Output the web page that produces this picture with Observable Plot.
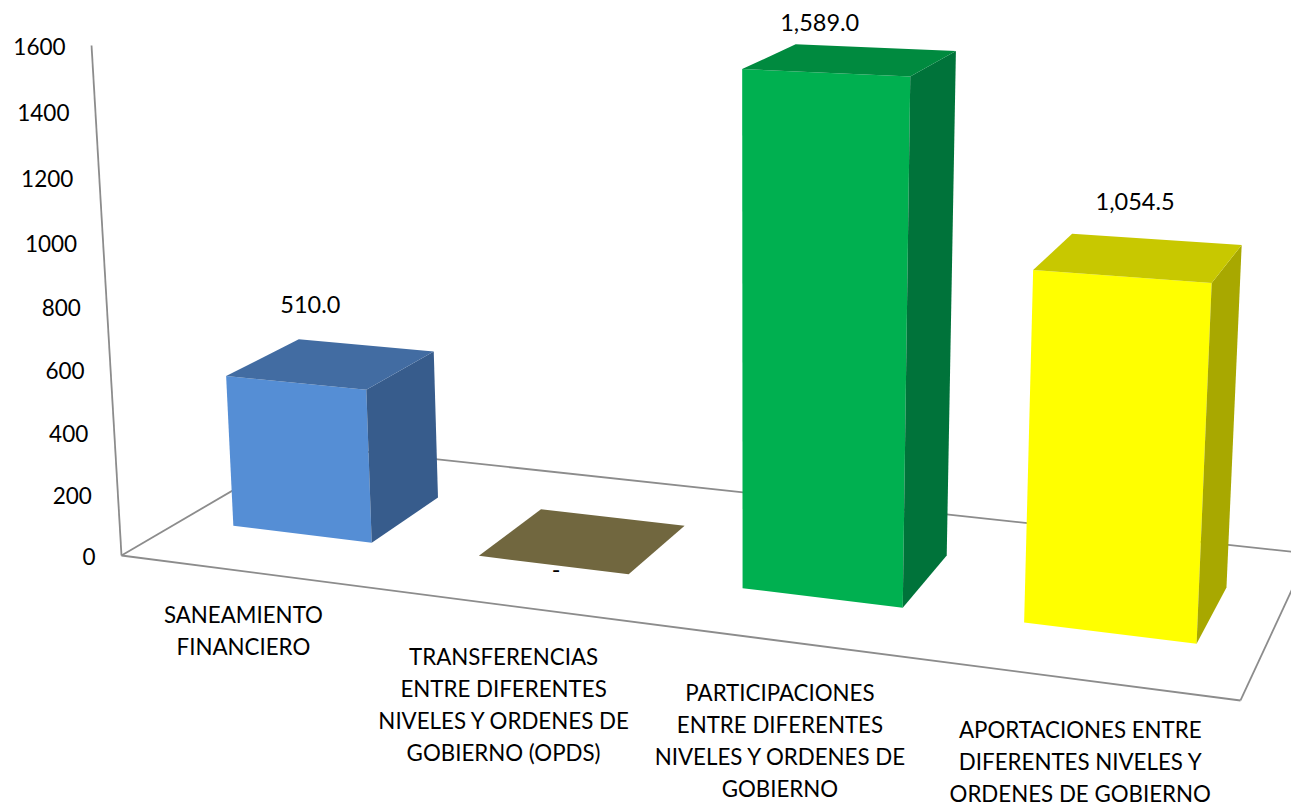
<!DOCTYPE html>
<html><head><meta charset="utf-8">
<script src="https://cdn.jsdelivr.net/npm/d3@7"></script>
<script src="https://cdn.jsdelivr.net/npm/@observablehq/plot@0.6"></script>
<style>html,body{margin:0;padding:0;background:#fff;overflow:hidden}svg{display:block}</style>
</head><body><div id="chart"></div>
<script>
const categories = ["SANEAMIENTO\nFINANCIERO","TRANSFERENCIAS\nENTRE DIFERENTES\nNIVELES Y ORDENES DE\nGOBIERNO (OPDS)","PARTICIPACIONES\nENTRE DIFERENTES\nNIVELES Y ORDENES DE\nGOBIERNO","APORTACIONES ENTRE\nDIFERENTES NIVELES Y\nORDENES DE GOBIERNO"];
const values = [510, 0, 1589, 1054.5];
const valueLabels = ["510.0","-","1,589.0","1,054.5"];
const yTicks = [0,200,400,600,800,1000,1200,1400,1600];
const frontColors = ["#558ed5","#71673f","#00b050","#ffff00"];
const topColors = ["#426ca2","#71673f","#008a3f","#c8c800"];
const sideColors = ["#375c8c","#71673f","#00733a","#a8a800"];
// perspective camera: origin and three vanishing points
const O=[121,555], VX=[-5945,-231], VY=[751,11277], VZ=[1749,-397];
const A=-0.15574, B=-0.0454, C=0.1306, YMAX=1600, BAR_SCALE=0.978;
function P(u,v,w){const d=1+A*u+B*v+C*w;
  return [(O[0]+A*u*VX[0]+B*v*VY[0]+C*w*VZ[0])/d,(O[1]+A*u*VX[1]+B*v*VY[1]+C*w*VZ[1])/d];}
const barStart=[.0545,.3075,.5585,.8055], barWidth=[.145,.145,.143,.1417], W0=.30, W1=.69;
const faces=[];
values.forEach((val,i)=>{
  const u0=barStart[i],u1=u0+barWidth[i],v=val/YMAX*BAR_SCALE;
  const add=(name,color,pts)=>pts.forEach(p=>{const q=P(...p);faces.push({id:i+name,color,x:q[0],y:q[1]});});
  if(val>0){
    add("front",frontColors[i],[[u0,0,W0],[u1,0,W0],[u1,v,W0],[u0,v,W0]]);
    add("side",sideColors[i],[[u1,0,W0],[u1,0,W1],[u1,v,W1],[u1,v,W0]]);
  }
  add("top",topColors[i],[[u0,v,W0],[u1,v,W0],[u1,v,W1],[u0,v,W1]]);
});
const frame=[[[0,0,0],[1,0,0]],[[1,0,0],[1,0,1]],[[0,0,0],[0,0,1]],[[0,0,1],[1,0,1]],[[0,0,0],[0,1,0]]]
  .map(([a,b])=>{const p=P(...a),q=P(...b);return {x1:p[0],y1:p[1],x2:q[0],y2:q[1]};});
const tickData=yTicks.map(t=>{const p=P(0,t/YMAX,0);return {t,x:p[0],y:p[1]};});
const labelOffset=[[-21,-58],[-27,30],[-31,-36],[-4,-55]];
const valueData=values.map((val,i)=>{const p=P(barStart[i]+barWidth[i]/2,val/YMAX*BAR_SCALE,(W0+W1)/2);
  return {label:valueLabels[i],x:p[0],y:p[1],dx:labelOffset[i][0],dy:labelOffset[i][1]};});
const catOffset=[[-.5,29],[.5,37],[-1.5,37],[0,35.5]];
const catData=categories.map((c,i)=>{const p=P(barStart[i]+barWidth[i]/2,0,0);return {label:c,x:p[0]+catOffset[i][0],y:p[1]+catOffset[i][1]};});
const FONT="Lato";
const chart=Plot.plot({width:1291,height:808,margin:0,
  style:{background:"#fff"},
  x:{domain:[0,1291],range:[0,1291],axis:null},
  y:{domain:[0,808],range:[0,808],axis:null},
  marks:[
    Plot.link(frame,{x1:"x1",y1:"y1",x2:"x2",y2:"y2",stroke:"#8c8c8c",strokeWidth:1.8}),
    Plot.line(faces,{x:"x",y:"y",z:"id",fill:"color",stroke:"none",curve:"linear-closed"}),
    Plot.text(tickData,{x:"x",y:"y",text:d=>String(d.t),textAnchor:"end",dx:-26,dy:2,fontSize:22.5,fontFamily:FONT,fill:"#000"}),
    ...valueData.map(d=>Plot.text([d],{x:"x",y:"y",text:"label",dx:d.dx,dy:d.dy,fontSize:23.5,fontFamily:FONT,fill:"#000"})),
    Plot.text(catData,{x:"x",y:"y",text:"label",lineAnchor:"top",lineHeight:1.44,fontSize:22.3,fontFamily:FONT,fill:"#000"})
  ]});
document.getElementById("chart").append(chart);
</script></body></html>
